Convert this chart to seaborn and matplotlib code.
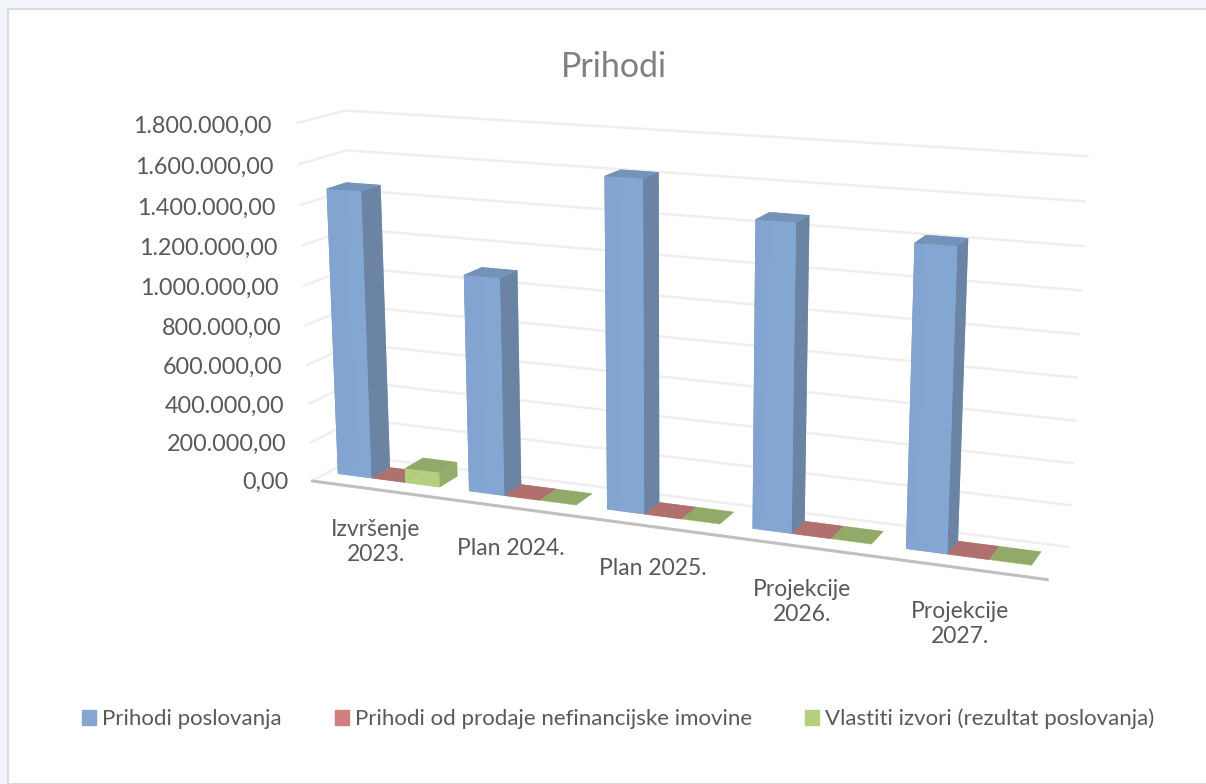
import numpy as np
import matplotlib
matplotlib.use("Agg")
import matplotlib.pyplot as plt
from matplotlib.patches import Patch, Rectangle
import seaborn as sns

categories = ["Izvršenje\n2023.", "Plan 2024.", "Plan 2025.", "Projekcije\n2026.", "Projekcije\n2027."]
series_names = ["Prihodi poslovanja", "Prihodi od prodaje nefinancijske imovine", "Vlastiti izvori (rezultat poslovanja)"]
prihodi_poslovanja = [1460000, 1090000, 1620000, 1470000, 1420000]
prihodi_prodaja = [1500, 1500, 1500, 1500, 1500]
vlastiti_izvori = [75000, 1500, 1500, 1500, 1500]
z_ticks = [0, 200000, 400000, 600000, 800000, 1000000, 1200000, 1400000, 1600000, 1800000]
z_labels = ["0,00", "200.000,00", "400.000,00", "600.000,00", "800.000,00", "1.000.000,00",
            "1.200.000,00", "1.400.000,00", "1.600.000,00", "1.800.000,00"]

sns.set_theme(style="white")
plt.rcParams["font.family"] = ["Lato", "DejaVu Sans"]
legend_cols = sns.color_palette(["#84A6D3", "#D37F7E", "#B5CF7E"])

# colours per face: bottom, top, front, back, left, right
blue = ["#84A6D3", "#7393B9", "#84A6D3", "#84A6D3", "#6B83A3", "#6B83A3"]
red = ["#B0706E", "#B0706E", "#C07A78", "#C07A78", "#A06664", "#A06664"]
green = ["#B5CF7E", "#90A96A", "#B5CF7E", "#B5CF7E", "#92AB69", "#92AB69"]

fig = plt.figure(figsize=(12.06, 7.84), dpi=100, facecolor="#F1F5FB")
fig.add_artist(Rectangle((8/1206, 0), 1, 1-9/784, transform=fig.transFigure, fc="white", ec="#DCDCDC", lw=1.5, zorder=-1))

# 3d axes are forced square, so make it big enough not to clip
cx, cy, size = 657, 346, 1206
ax = fig.add_axes([(cx-size/2)/1206, 1-(cy+size/2)/784, size/1206, size/784], projection="3d", computed_zorder=False)
ax.patch.set_alpha(0)
ax.set_proj_type("persp", focal_length=0.33)
ax.view_init(elev=14, azim=-68)
ax.set_box_aspect((845, 103, 410), zoom=0.714)
ax.set_xlim(-0.5, 4.5)
ax.set_ylim(0, 1)
ax.set_zlim(0, 1800000)
ax.set_axis_off()

x0, x1 = -0.5, 4.5
y0, y1 = 0, 1
for z, lab in zip(z_ticks, z_labels):
    ax.plot([x0, x0, x1], [y0, y1, y1], [z, z, z], color="#EFEFEF", lw=1.8, zorder=1)
    ax.text(x0 - 0.19, y0, z - 25000, lab, ha="right", va="center", fontsize=16.8, color="#595959", zorder=5)
ax.plot([x0, x1], [y0, y0], [0, 0], color="#BFBFBF", lw=2.2, zorder=2)

bar_w = 0.26
xs, ys, dzs, cols = [], [], [], []
for i in range(len(categories)):
    for j, (vals, c) in enumerate(zip([prihodi_poslovanja, prihodi_prodaja, vlastiti_izvori], [blue, red, green])):
        xs.append(i - 0.42 + j * bar_w)
        ys.append(0.33)
        dzs.append(vals[i])
        cols += c
ax.bar3d(xs, ys, np.zeros(len(xs)), bar_w, 0.42, dzs, color=cols, shade=False, linewidth=0, alpha=0.97, zorder=3)

for i, cat in enumerate(categories):
    ax.text(i - 0.02, y0, -155000, cat, ha="center", va="top", fontsize=16.5, color="#595959", linespacing=1.25, zorder=5)

fig.text(614/1206, 1-67/784, "Prihodi", ha="center", va="center", fontsize=24.5, color="#7F7F7F")
handles = [Patch(color=c, label=n) for c, n in zip(legend_cols, series_names)]
fig.legend(handles=handles, loc="center left", bbox_to_anchor=(62/1206, 1-719/784), ncol=3, frameon=False,
           fontsize=16, labelcolor="#595959", handlelength=0.63, handleheight=0.63, handletextpad=0.27, columnspacing=2.4)

fig.savefig("out.png", dpi=100)
